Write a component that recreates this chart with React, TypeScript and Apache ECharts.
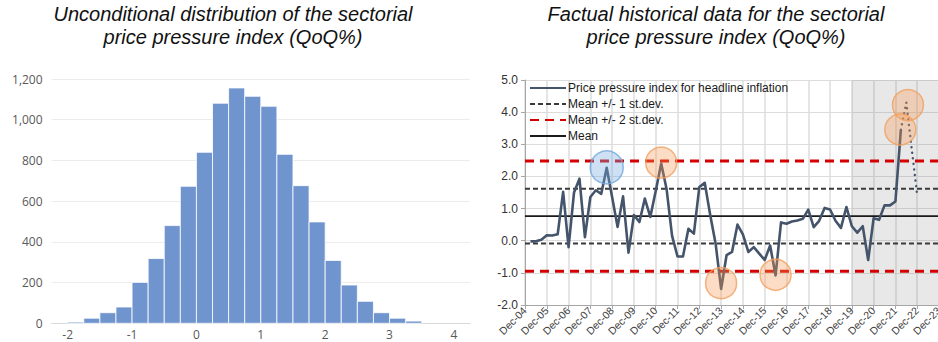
import React, { useEffect, useRef } from "react";
import * as echarts from "echarts";

// ---------- Left: histogram ----------
const histBinStart = [-2, -1.75, -1.5, -1.25, -1, -0.75, -0.5, -0.25, 0, 0.25, 0.5, 0.75, 1, 1.25, 1.5, 1.75, 2, 2.25, 2.5, 2.75, 3, 3.25];
const histBinEnd = [-1.75, -1.5, -1.25, -1, -0.75, -0.5, -0.25, 0, 0.25, 0.5, 0.75, 1, 1.25, 1.5, 1.75, 2, 2.25, 2.5, 2.75, 3, 3.25, 3.5];
const histCounts = [6, 25, 52, 80, 201, 318, 480, 673, 840, 1081, 1156, 1115, 1066, 830, 676, 498, 309, 188, 108, 52, 25, 11];
const histXTicks = [-2, -1, 0, 1, 2, 3, 4];

// ---------- Right: quarterly price pressure index ----------
const xTickLabels = ["Dec-04", "Dec-05", "Dec-06", "Dec-07", "Dec-08", "Dec-09", "Dec-10", "Dec-11", "Dec-12", "Dec-13", "Dec-14", "Dec-15", "Dec-16", "Dec-17", "Dec-18", "Dec-19", "Dec-20", "Dec-21", "Dec-22", "Dec-23"];
const firstQuarter = 1; // Mar-05 (quarters counted from Dec-04)
const priceIndex = [
  -0.02, -0.02, 0.03, 0.17, 0.16, 0.2, 1.52, -0.2, 1.5, 1.93,
  0.11, 1.36, 1.57, 1.46, 2.27, 1.35, 0.43, 1.38, -0.37, 0.8,
  0.58, 1.31, 0.74, 1.55, 2.4, 1.6, 0.15, -0.49, -0.49, 0.37,
  0.22, 1.67, 1.8, 0.8, -0.1, -1.5, -0.45, -0.35, 0.5, 0.2,
  -0.35, -0.2, -0.4, -0.6, -0.15, -1.08, 0.57, 0.53, 0.6, 0.63,
  0.68, 0.97, 0.42, 0.62, 1.02, 0.97, 0.62, 0.4, 1.05, 0.45,
  0.25, 0.45, -0.6, 0.7, 0.65, 1.1, 1.1, 1.22, 3.45,
];
const forecastQuarters = [69, 70, 71, 72];
const forecastValues = [3.45, 4.3, 2.85, 1.4];
const meanValue = 0.765;
const sd1Upper = 1.62;
const sd1Lower = -0.09;
const sd2Upper = 2.48;
const sd2Lower = -0.95;
const shadeFrom = 60; // Dec-19
const shadeTo = 76;
const blueCircles = [[15, 2.28]];
const orangeCircles = [[25, 2.43], [36, -1.32], [46, -1.06], [68.9, 3.46], [70.3, 4.22]];

const NAME_PRICE = "Price pressure index for headline inflation";
const NAME_SD1 = "Mean +/- 1 st.dev.";
const NAME_SD2 = "Mean +/- 2 st.dev.";
const NAME_MEAN = "Mean";

function hline(v: number) {
  return [[0, v], [76, v]];
}

export default function App() {
  const ref = useRef<HTMLDivElement>(null);
  useEffect(() => {
    const chart = echarts.init(ref.current!, null, { renderer: "svg" });
    const histData = histCounts.map((c, i) => [histBinStart[i], histBinEnd[i], c]);
    const priceData = priceIndex.map((v, i) => [firstQuarter + i, v]);
    const forecastData = forecastValues.map((v, i) => [forecastQuarters[i], v]);
    const titleStyle = {
      fontFamily: "Liberation Sans, Arial, sans-serif",
      fontStyle: "italic",
      fontSize: 20,
      fill: "#111",
      textAlign: "center",
      textVerticalAlign: "top",
      lineHeight: 23.5,
    };
    const option: any = {
      animation: false,
      backgroundColor: "#fff",
      graphic: [
        { type: "text", x: 233, y: 2, style: { ...titleStyle, text: "Unconditional distribution of the sectorial\nprice pressure index (QoQ%)" } },
        { type: "text", x: 716, y: 2, style: { ...titleStyle, text: "Factual historical data for the sectorial\nprice pressure index (QoQ%)" } },
      ],
      legend: {
        data: [NAME_PRICE, NAME_SD1, NAME_SD2, NAME_MEAN],
        orient: "vertical",
        left: 529,
        top: 82,
        padding: 0,
        itemWidth: 36,
        itemHeight: 12,
        itemGap: 4,
        selectedMode: false,
        itemStyle: { opacity: 0, borderWidth: 0 },
        textStyle: { fontFamily: "Liberation Sans, Arial, sans-serif", fontSize: 12, color: "#1a1a1a", padding: [0, 0, 0, -3] },
      },
      grid: [
        { left: 51.6, right: 490, top: 79, bottom: 18.7 },
        { left: 525, right: 21, top: 80, bottom: 37 },
      ],
      xAxis: [
        {
          gridIndex: 0,
          type: "value",
          min: -2.25,
          max: 4.25,
          axisLine: { show: true, lineStyle: { color: "#d9d9d9", width: 1 } },
          axisTick: { show: false },
          splitLine: { show: false },
          axisLabel: {
            customValues: histXTicks,
            color: "#595959",
            fontFamily: "Open Sans, sans-serif",
            fontSize: 12,
            lineHeight: 12,
            margin: 5,
            formatter: (v: number) => String(v),
          },
        },
        {
          gridIndex: 1,
          type: "value",
          min: 0,
          max: 76,
          interval: 4,
          axisLine: { show: true, onZero: false, lineStyle: { color: "#a6a6a6", width: 1 } },
          axisTick: { show: true, length: 4, lineStyle: { color: "#a6a6a6" } },
          splitLine: { show: true, lineStyle: { color: "#dcdcdc", width: 1.5 } },
          axisLabel: {
            rotate: 45,
            color: "#404040",
            fontFamily: "Liberation Sans, Arial, sans-serif",
            fontSize: 10.5,
            margin: 4,
            formatter: (v: number) => xTickLabels[Math.round(v / 4)] ?? "",
          },
        },
      ],
      yAxis: [
        {
          gridIndex: 0,
          type: "value",
          min: 0,
          max: 1200,
          interval: 200,
          axisLine: { show: false },
          axisTick: { show: false },
          splitLine: { show: true, lineStyle: { color: "#ececec", width: 1 } },
          axisLabel: {
            color: "#595959",
            fontFamily: "Open Sans, sans-serif",
            fontSize: 12,
            margin: 9,
            formatter: (v: number) => v.toLocaleString("en-US"),
          },
        },
        {
          gridIndex: 1,
          type: "value",
          min: -2,
          max: 5,
          interval: 1,
          axisLine: { show: true, lineStyle: { color: "#a6a6a6", width: 1 } },
          axisTick: { show: true, length: 4, lineStyle: { color: "#a6a6a6" } },
          splitLine: { show: true, lineStyle: { color: "#dcdcdc", width: 1.2 } },
          axisLabel: {
            color: "#333",
            fontFamily: "Liberation Sans, Arial, sans-serif",
            fontSize: 12,
            margin: 7,
            formatter: (v: number) => v.toFixed(1),
          },
        },
      ],
      series: [
        {
          type: "custom",
          xAxisIndex: 0,
          yAxisIndex: 0,
          data: histData,
          encode: { x: [0, 1], y: 2 },
          renderItem: (params: any, api: any) => {
            const p0 = api.coord([api.value(0), api.value(2)]);
            const p1 = api.coord([api.value(1), 0]);
            return {
              type: "rect",
              shape: { x: p0[0], y: p0[1], width: p1[0] - p0[0], height: p1[1] - p0[1] },
              style: { fill: "#7094CE", stroke: "#ffffff", lineWidth: 0.8 },
            };
          },
        },
        {
          name: NAME_SD2, type: "line", xAxisIndex: 1, yAxisIndex: 1, data: hline(sd2Upper), symbol: "none", z: 2,
          lineStyle: { color: "#d40000", width: 3, type: [9, 6] }, itemStyle: { color: "#d40000" },
        },
        {
          name: NAME_SD2, type: "line", xAxisIndex: 1, yAxisIndex: 1, data: hline(sd2Lower), symbol: "none", z: 2,
          lineStyle: { color: "#d40000", width: 3, type: [9, 6] }, itemStyle: { color: "#d40000" },
        },
        {
          name: NAME_SD1, type: "line", xAxisIndex: 1, yAxisIndex: 1, data: hline(sd1Upper), symbol: "none", z: 2,
          lineStyle: { color: "#3a3a3a", width: 2, type: [5, 3] }, itemStyle: { color: "#3a3a3a" },
        },
        {
          name: NAME_SD1, type: "line", xAxisIndex: 1, yAxisIndex: 1, data: hline(sd1Lower), symbol: "none", z: 2,
          lineStyle: { color: "#3a3a3a", width: 2, type: [5, 3] }, itemStyle: { color: "#3a3a3a" },
        },
        {
          name: NAME_MEAN, type: "line", xAxisIndex: 1, yAxisIndex: 1, data: hline(meanValue), symbol: "none", z: 2,
          lineStyle: { color: "#1a1a1a", width: 1.6 }, itemStyle: { color: "#1a1a1a" },
        },
        {
          name: NAME_PRICE, type: "line", xAxisIndex: 1, yAxisIndex: 1, data: priceData, symbol: "none", z: 3,
          lineStyle: { color: "#44546A", width: 2.6, join: "round" }, itemStyle: { color: "#44546A" },
        },
        {
          name: "forecast", type: "line", xAxisIndex: 1, yAxisIndex: 1, data: forecastData, symbol: "none", z: 3,
          lineStyle: { color: "#44546A", width: 2.4, type: [0.1, 5.5], cap: "round" },
        },
        {
          name: "shade", type: "line", xAxisIndex: 1, yAxisIndex: 1, data: [], symbol: "none", z: 4,
          markArea: {
            silent: true,
            itemStyle: { color: "rgba(120,120,120,0.17)" },
            data: [[{ xAxis: shadeFrom }, { xAxis: shadeTo }]],
          },
        },
        {
          name: "blue", type: "scatter", xAxisIndex: 1, yAxisIndex: 1, data: blueCircles, symbolSize: 33, z: 5,
          itemStyle: { color: "rgba(120,170,225,0.45)", borderColor: "#6fa8dc", borderWidth: 1.5 },
        },
        {
          name: "orange", type: "scatter", xAxisIndex: 1, yAxisIndex: 1, data: orangeCircles, symbolSize: 31, z: 5,
          itemStyle: { color: "rgba(245,150,80,0.42)", borderColor: "#f0a060", borderWidth: 1.5 },
        },
      ],
    };
    chart.setOption(option);
    return () => chart.dispose();
  }, []);
  return (
    <div style={{ position: "fixed", left: 0, top: 0, width: 938, height: 342, overflow: "hidden", background: "#fff" }}>
      <div ref={ref} style={{ width: 960, height: 342 }} />
    </div>
  );
}
